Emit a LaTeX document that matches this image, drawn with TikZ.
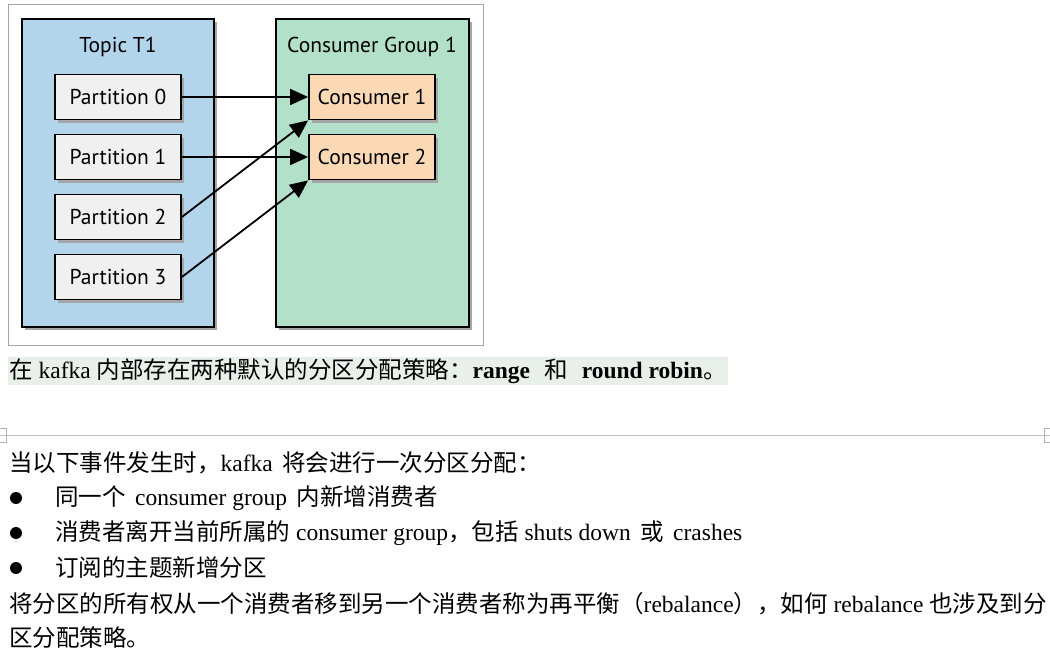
\documentclass[tikz,border=0pt]{standalone}
\usepackage{fontspec}
\setmainfont{Liberation Serif}
\newfontfamily\cj{Noto Sans CJK SC}
\newfontfamily\dg{PT Sans}
\usetikzlibrary{arrows.meta}
\newcommand{\zh}[1]{{\cj #1}}
\definecolor{tblue}{HTML}{B2D5EC}
\definecolor{ggreen}{HTML}{B3E0C9}
\definecolor{corange}{HTML}{FBD9B4}
\begin{document}
\begin{tikzpicture}[x=1pt,y=-1pt,
  grp/.style={draw=black,line width=1.8pt},
  part/.style={draw=black,line width=1.8pt,fill=gray!12,minimum width=126pt,minimum height=45pt,font=\dg\fontsize{21.5}{21.5}\selectfont},
  cons/.style={part,fill=corange},
  ttl/.style={font=\dg\fontsize{21.5}{21.5}\selectfont},
  arr/.style={line width=1.8pt,-{Triangle[length=18pt,width=16pt]}},
  txt/.style={anchor=west,inner sep=0pt,font=\fontsize{23.5}{23.5}\selectfont}]
\useasboundingbox (0,0) rectangle (1050,652);
\fill[white] (0,0) rectangle (1050,652);
\draw[gray!70] (8,4) rectangle (483,345);
\fill[black!35] (25,22) rectangle (217,330);
\fill[black!35] (279,22) rectangle (472,330);
\draw[grp,fill=tblue] (22,19) rectangle (214,327);
\draw[grp,fill=ggreen] (276,19) rectangle (469,327);
\node[ttl] (t1) at (118,47) {Topic T1};
\node[ttl] (g1) at (372,47) {Consumer Group 1};
\foreach \i/\y in {0/97,1/157,2/217,3/277}{
  \fill[black!35] (58,\y-19) rectangle (184,\y+26);
  \node[part] (p\i) at (118,\y) {Partition \i};}
\foreach \i/\y in {1/97,2/157}{
  \fill[black!35] (312,\y-19) rectangle (438,\y+26);
  \node[cons] (c\i) at (372,\y) {Consumer \i};}
\draw[arr] (p0.east) -- (c1.west);
\draw[arr] (p1.east) -- (c2.west);
\draw[arr] (p2.east) -- (c1.south west);
\draw[arr] (p3.east) -- (c2.south west);
\fill[green!15!gray!15] (8,357) rectangle (728,385);
\node[txt] (l0) at (9,371) {\zh{在} kafka \zh{内部存在两种默认的分区分配策略：}\textbf{range}\hspace{0.6em}\zh{和}\hspace{0.6em}\textbf{round robin}\zh{。}};
\draw[gray!50] (0,435) -- (1050,435);
\draw[gray!60] (0,428) -- (6,428) -- (6,442) -- (0,442);
\draw[gray!60] (1050,428) -- (1044,428) -- (1044,442) -- (1050,442);
\node[txt] (l1) at (9,463) {\zh{当以下事件发生时，}kafka\hspace{0.4em}\zh{将会进行一次分区分配：}};
\foreach \y [count=\k] in {498,533,568}{\fill (16,\y) circle (6pt);}
\node[txt] (l2) at (55,498) {\zh{同一个}\hspace{0.4em}consumer group\hspace{0.4em}\zh{内新增消费者}};
\node[txt] (l3) at (55,533) {\zh{消费者离开当前所属的} consumer group\zh{，包括} shuts down\hspace{0.4em}\zh{或}\hspace{0.4em}crashes};
\node[txt] (l4) at (55,568) {\zh{订阅的主题新增分区}};
\node[txt] (l5) at (9,604) {\zh{将分区的所有权从一个消费者移到另一个消费者称为再平衡（}rebalance\zh{），如何} rebalance \zh{也涉及到分}};
\node[txt] (l6) at (9,638) {\zh{区分配策略。}};
\end{tikzpicture}
\end{document}
